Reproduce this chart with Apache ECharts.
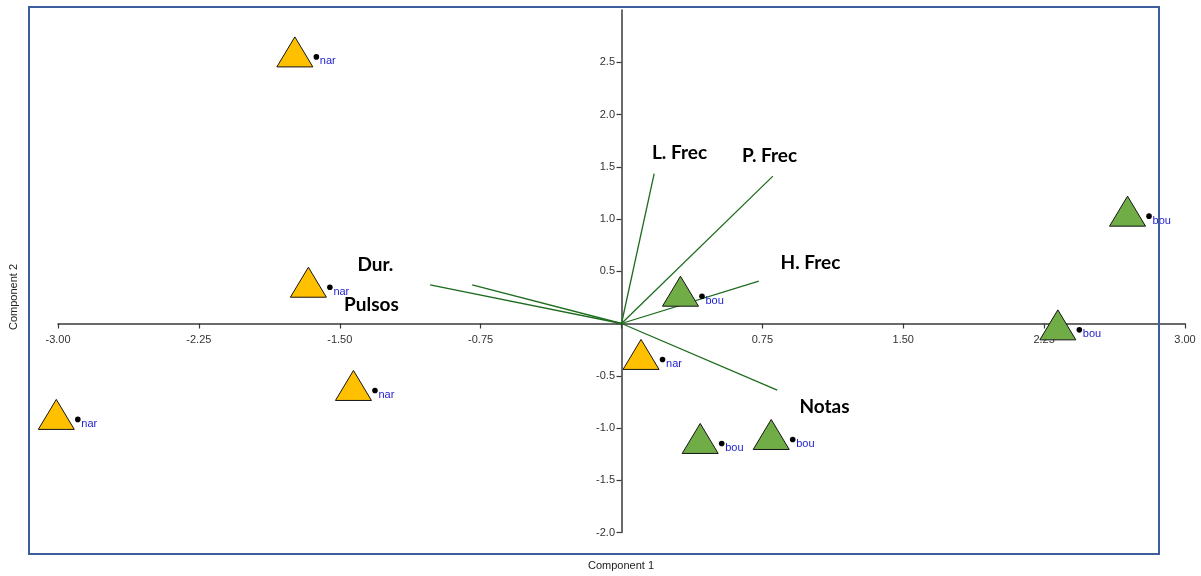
<!DOCTYPE html>
<html><head><meta charset="utf-8">
<script src="https://cdn.jsdelivr.net/npm/echarts@6/dist/echarts.min.js"></script>
<style>html,body{margin:0;padding:0;background:#fff}#c{width:1201px;height:576px}</style>
</head><body><div id="c"></div>
<script>
// ---- data ----
const pointX = [-1.739, -1.667, -1.427, -3.009, 0.104, 0.314, 2.694, 2.323, 0.419, 0.797];
const pointY = [2.599, 0.395, -0.593, -0.870, -0.296, 0.309, 1.075, -0.013, -1.100, -1.062];
const pointGroup = ['nar', 'nar', 'nar', 'nar', 'nar', 'bou', 'bou', 'bou', 'bou', 'bou'];
const variableNames = ['L. Frec', 'P. Frec', 'H. Frec', 'Notas', 'Dur.', 'Pulsos'];
const loadingX = [0.174, 0.806, 0.731, 0.829, -1.019, -0.795];
const loadingY = [1.435, 1.410, 0.405, -0.638, 0.369, 0.369];
const labelAnchorX = [0.309, 0.788, 1.006, 1.081, -1.310, -1.331];
const labelAnchorY = [1.630, 1.601, 0.577, -0.801, 0.558, 0.175];
const xLabels = [-3, -2.25, -1.5, -0.75, 0.75, 1.5, 2.25, 3];
const yTicks = [-2, -1.5, -1, -0.5, 0, 0.5, 1, 1.5, 2, 2.5];
const yLabels = [-2, -1.5, -1, -0.5, 0.5, 1, 1.5, 2, 2.5];
const xAxisName = 'Component 1';
const yAxisName = 'Component 2';

// ---- chart ----
const groupColors = { nar: '#FFC000', bou: '#70AD47' };
const axisColor = '#3a3a3a';
const tickFont = '11px "Liberation Sans"';
const chart = echarts.init(document.getElementById('c'), null, { renderer: 'canvas' });

const option = {
  backgroundColor: '#ffffff',
  animation: false,
  grid: { left: 58, right: 16, top: 10, bottom: 43.5, containLabel: false },
  xAxis: {
    type: 'value', min: -3, max: 3, interval: 0.75,
    axisLine: { onZero: true, lineStyle: { color: axisColor, width: 1.5 } },
    axisTick: { show: true, length: 5, lineStyle: { color: axisColor, width: 1.2 } },
    axisLabel: { show: false },
    splitLine: { show: false }
  },
  yAxis: {
    type: 'value', min: -2, max: 3, interval: 0.5,
    axisLine: { onZero: true, lineStyle: { color: axisColor, width: 1.5 } },
    axisTick: { show: true, length: 5, lineStyle: { color: axisColor, width: 1.2 }, customValues: yTicks },
    axisLabel: { show: false },
    splitLine: { show: false }
  },
  series: [
    {
      type: 'custom', coordinateSystem: 'cartesian2d', z: 2, clip: false,
      encode: { x: 0, y: 1 },
      data: xLabels.map(v => [v, 0]),
      renderItem(params, api) {
        const c = api.coord([api.value(0), 0]);
        return { type: 'text', x: c[0], y: c[1] + 16,
          style: { text: api.value(0).toFixed(2), fill: '#333', font: tickFont, align: 'center', verticalAlign: 'middle' } };
      }
    },
    {
      type: 'custom', coordinateSystem: 'cartesian2d', z: 2, clip: false,
      encode: { x: 0, y: 1 },
      data: yLabels.map(v => [0, v]),
      renderItem(params, api) {
        const c = api.coord([0, api.value(1)]);
        return { type: 'text', x: c[0] - 6.5, y: c[1],
          style: { text: api.value(1).toFixed(1), fill: '#333', font: tickFont, align: 'right', verticalAlign: 'middle' } };
      }
    },
    {
      type: 'custom', coordinateSystem: 'cartesian2d', z: 2, clip: false,
      encode: { x: 0, y: 1 },
      data: loadingX.map((x, i) => [x, loadingY[i], labelAnchorX[i], labelAnchorY[i]]),
      renderItem(params, api) {
        const o = api.coord([0, 0]);
        const e = api.coord([api.value(0), api.value(1)]);
        const t = api.coord([api.value(2), api.value(3)]);
        return {
          type: 'group',
          children: [
            { type: 'line', shape: { x1: o[0], y1: o[1], x2: e[0], y2: e[1] },
              style: { stroke: '#1d6b1d', lineWidth: 1.3 } },
            { type: 'text', x: t[0], y: t[1],
              style: { text: variableNames[params.dataIndex], fill: '#000',
                font: 'bold 19px Lato', align: 'center', verticalAlign: 'middle' } }
          ]
        };
      }
    },
    {
      type: 'custom', coordinateSystem: 'cartesian2d', z: 3, clip: false,
      encode: { x: 0, y: 1 },
      data: pointX.map((x, i) => [x, pointY[i]]),
      renderItem(params, api) {
        const c = api.coord([api.value(0), api.value(1)]);
        const g = pointGroup[params.dataIndex];
        const dx = c[0] + 21.5, dy = c[1] + 5;
        return {
          type: 'group',
          children: [
            { type: 'polygon', shape: { points: [[c[0], c[1] - 15], [c[0] - 18, c[1] + 15], [c[0] + 18, c[1] + 15]] },
              style: { fill: groupColors[g], stroke: '#141414', lineWidth: 1 } },
            { type: 'circle', shape: { cx: dx, cy: dy, r: 2.8 }, style: { fill: '#000' } },
            { type: 'text', x: dx + 3.5, y: dy + 4.5,
              style: { text: g, fill: '#1c1cd0', font: '11px "Liberation Sans"', align: 'left', verticalAlign: 'middle' } }
          ]
        };
      }
    }
  ],
  graphic: [
    { type: 'rect', z: 100, shape: { x: 29, y: 7, width: 1130, height: 547 },
      style: { fill: 'none', stroke: '#3d5d9c', lineWidth: 2 } },
    { type: 'text', z: 100, x: 621, y: 566,
      style: { text: xAxisName, fill: '#222', font: '11px "Liberation Sans"', align: 'center', verticalAlign: 'middle' } },
    { type: 'text', z: 100, x: 14, y: 297, rotation: Math.PI / 2,
      style: { text: yAxisName, fill: '#222', font: '11px "Liberation Sans"', align: 'center', verticalAlign: 'middle' } }
  ]
};
chart.setOption(option);
</script>
</body></html>
